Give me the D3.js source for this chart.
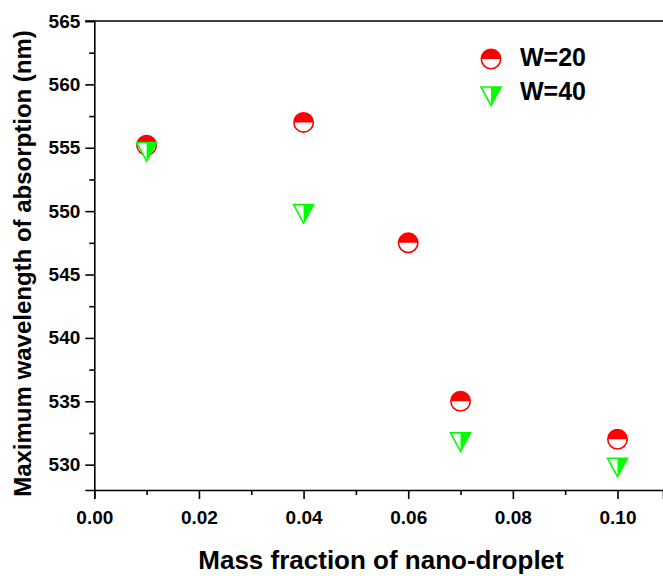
<!DOCTYPE html>
<html><head><meta charset="utf-8">
<script src="https://cdn.jsdelivr.net/npm/d3@7"></script>
<style>html,body{margin:0;padding:0;background:#fff;}svg{display:block;}</style>
</head><body>
<script>
const xValues = [0.01, 0.04, 0.06, 0.07, 0.10];
const w20 = [555.2, 557.0, 547.5, 535.0, 532.0];
const w40X = [0.01, 0.04, 0.07, 0.10];
const w40 = [554.7, 549.8, 531.8, 529.8];
const xTicks = [0.00, 0.02, 0.04, 0.06, 0.08, 0.10];
const yTicks = [530, 535, 540, 545, 550, 555, 560, 565];
const seriesNames = ["W=20", "W=40"];

const W = 663, H = 576;
const svg = d3.select("body").append("svg").attr("width", W).attr("height", H);
const font = "'Liberation Sans', Arial, sans-serif";

const x = d3.scaleLinear().domain([0, 0.1087]).range([94.3, 663]);
const y = d3.scaleLinear().domain([528, 565]).range([490, 21]);

const RED = "#ff0000", GREEN = "#00ff00";

// top border
svg.append("line").attr("x1", x(0) - 9).attr("x2", W).attr("y1", y(565)).attr("y2", y(565))
  .attr("stroke", "#000").attr("stroke-width", 1.6);

// y axis
svg.append("g").attr("transform", `translate(${x(0)},0)`)
  .call(d3.axisLeft(y).tickValues(yTicks).tickSize(9).tickPadding(5).tickFormat(d3.format("d")));
svg.append("g").attr("transform", `translate(${x(0)},0)`)
  .call(d3.axisLeft(y).tickValues(d3.range(532.5, 565, 5)).tickSize(5).tickFormat(""))
  .call(g => g.select(".domain").remove());

// x axis
svg.append("g").attr("transform", `translate(0,${y.range()[0]})`)
  .call(d3.axisBottom(x).tickValues(xTicks).tickSize(9).tickPadding(12).tickFormat(d3.format(".2f")));
svg.append("g").attr("transform", `translate(0,${y.range()[0]})`)
  .call(d3.axisBottom(x).tickValues(d3.range(0.01, 0.108, 0.02)).tickSize(5).tickFormat(""))
  .call(g => g.select(".domain").remove());

svg.selectAll(".domain").attr("stroke", "#000").attr("stroke-width", 1.6);
svg.selectAll(".tick line").attr("stroke", "#000").attr("stroke-width", 1.6);
svg.selectAll(".tick text").attr("font-family", font).attr("font-weight", "bold")
  .attr("font-size", 19).attr("fill", "#000");

// axis titles
svg.append("text").attr("x", 381).attr("y", 569).attr("text-anchor", "middle")
  .attr("font-family", font).attr("font-weight", "bold").attr("font-size", 26)
  .text("Mass fraction of nano-droplet");
svg.append("text").attr("transform", "translate(31,263.5) rotate(-90)").attr("text-anchor", "middle")
  .attr("font-family", font).attr("font-weight", "bold").attr("font-size", 24)
  .text("Maximum wavelength of absorption (nm)");

// markers
const R = 10.5;
function halfCircle(g) {
  g.append("circle").attr("r", R - 0.8).attr("fill", "#fff").attr("stroke", RED).attr("stroke-width", 1.6);
  g.append("path").attr("d", `M${-R + 0.8},0A${R - 0.8},${R - 0.8} 0 0 1 ${R - 0.8},0Z`).attr("fill", RED);
}
const A = 10, H1 = 9, H2 = 9.5;
function halfTri(g) {
  g.append("path").attr("d", `M${-A},${-H1}L${A},${-H1}L0,${H2}Z`).attr("fill", "#fff")
    .attr("stroke", GREEN).attr("stroke-width", 1.6).attr("stroke-linejoin", "miter");
  g.append("path").attr("d", `M0,${-H1}L${A},${-H1}L0,${H2}Z`).attr("fill", GREEN);
}

xValues.forEach((xv, i) => {
  halfCircle(svg.append("g").attr("transform", `translate(${x(xv)},${y(w20[i])})`));
});
w40X.forEach((xv, i) => {
  halfTri(svg.append("g").attr("transform", `translate(${x(xv)},${y(w40[i])})`));
});

// legend
const leg = svg.append("g");
halfCircle(leg.append("g").attr("transform", "translate(491,59)"));
halfTri(leg.append("g").attr("transform", "translate(491,96)"));
leg.append("text").attr("x", 520).attr("y", 65.5).attr("font-family", font).attr("font-weight", "bold")
  .attr("font-size", 25).text(seriesNames[0]);
leg.append("text").attr("x", 520).attr("y", 99.5).attr("font-family", font).attr("font-weight", "bold")
  .attr("font-size", 25).text(seriesNames[1]);
</script>
</body></html>
